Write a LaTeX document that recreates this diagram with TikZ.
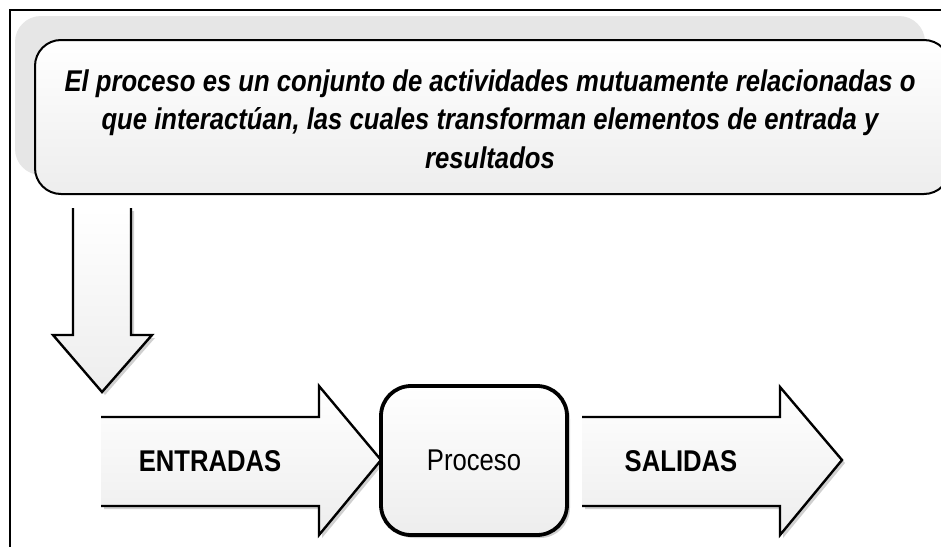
\documentclass[tikz,border=0pt]{standalone}
\usepackage{fontspec}
\setmainfont{Liberation Sans}
\newfontfamily\narrowfont{Liberation Sans}[FakeStretch=0.855]
\usetikzlibrary{shadings}
\definecolor{bggray}{HTML}{E6E6E6}
\definecolor{fillbot}{HTML}{EDEDED}
\definecolor{shadowgray}{HTML}{D0D0D0}
\tikzset{
  shapefill/.style={top color=white, bottom color=fillbot},
  arrowline/.style={draw=black, line width=2.4pt, line join=miter},
  label/.style={inner sep=0pt, text=black},
}
\begin{document}
\begin{tikzpicture}[x=1pt,y=-1pt]
\useasboundingbox (0,0) rectangle (941,546);
\clip (0,0) rectangle (941,546);
\fill[white] (0,0) rectangle (941,546);
% frame
\draw[line width=2pt] (10,560) -- (10,10) -- (950,10);
% gray background
\fill[bggray, rounded corners=26pt] (15,16) rectangle (925,175);
% top box
\path[shapefill, draw=black, line width=2pt, rounded corners=26pt] (35,40) rectangle (950,194);
\node[label, align=center, font=\narrowfont\bfseries\itshape\fontsize{30}{38.5}\selectfont] (def) at (490,119)
  {El proceso es un conjunto de actividades mutuamente relacionadas o\\que interactúan, las cuales transforman elementos de entrada y\\resultados};
% down arrow
\fill[shadowgray] (76,211) -- (76,338) -- (56,338) -- (105,395) -- (155,338) -- (134,338) -- (134,211) -- cycle;
\path[shapefill] (73,208) -- (73,335) -- (53,335) -- (102,392) -- (152,335) -- (131,335) -- (131,208) -- cycle;
\draw[arrowline] (73,208) -- (73,335) -- (53,335) -- (102,392) -- (152,335) -- (131,335) -- (131,208);
% entradas arrow
\fill[shadowgray] (104,420) -- (322,420) -- (322,389) -- (384,463) -- (322,538) -- (322,509) -- (104,509) -- cycle;
\path[shapefill] (101,417) -- (319,417) -- (319,386) -- (381,460) -- (319,535) -- (319,506) -- (101,506) -- cycle;
\draw[arrowline] (101,417) -- (319,417) -- (319,386) -- (381,460) -- (319,535) -- (319,506) -- (101,506);
\node[label, font=\narrowfont\bfseries\fontsize{30}{36}\selectfont] (in) at (210,461) {ENTRADAS};
% salidas arrow
\fill[shadowgray] (585,420) -- (783,420) -- (783,390) -- (845,463) -- (783,538) -- (783,509) -- (585,509) -- cycle;
\path[shapefill] (582,417) -- (780,417) -- (780,387) -- (842,460) -- (780,535) -- (780,506) -- (582,506) -- cycle;
\draw[arrowline] (582,417) -- (780,417) -- (780,387) -- (842,460) -- (780,535) -- (780,506) -- (582,506);
\node[label, font=\narrowfont\bfseries\fontsize{30}{36}\selectfont] (out) at (681,461) {SALIDAS};
% proceso box
\fill[shadowgray, rounded corners=30pt] (384,389) rectangle (570,538);
\node[shapefill, draw=black, line width=3.8pt, rounded corners=30pt, minimum width=186pt, minimum height=149pt, inner sep=0pt] (proc) at (474,460.5) {};
\node[label, font=\narrowfont\fontsize{30}{36}\selectfont] (proclabel) at (proc.center) {Proceso};
\end{tikzpicture}
\end{document}
